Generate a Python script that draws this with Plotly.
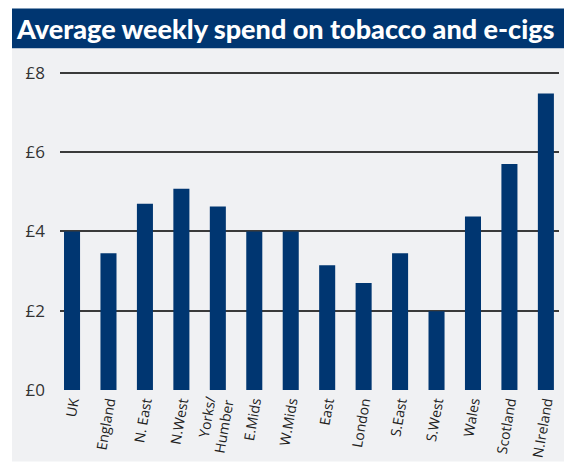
import plotly.graph_objects as go

regions = ["UK", "England", "N. East", "N.West", "Yorks/<br>Humber", "E.Mids", "W.Mids",
           "East", "London", "S.East", "S.West", "Wales", "Scotland", "N.Ireland"]
spend = [4.0, 3.45, 4.7, 5.08, 4.63, 4.0, 4.0, 3.15, 2.7, 3.45, 1.99, 4.38, 5.7, 7.48]
tick_vals = [0, 2, 4, 6, 8]
tick_text = ["£0", "£2", "£4", "£6", "£8"]
title = "Average weekly spend on tobacco and e-cigs"

W, H = 564, 464
L, R, T, B = 60, 5, 71, 72
pw, ph = W - L - R, H - T - B

def px(x):
    return (x - L) / pw

def py(y):
    return (H - B - y) / ph

fig = go.Figure(go.Bar(x=list(range(len(regions))), y=spend, marker_color="#003671",
                       marker_line_width=0, width=0.44))

fig.update_layout(
    width=W, height=H, margin=dict(l=L, r=R, t=T, b=B),
    paper_bgcolor="white", plot_bgcolor="rgba(0,0,0,0)",
    showlegend=False,
    xaxis=dict(range=[-0.33, 13.36], tickvals=list(range(len(regions))), ticktext=regions,
               tickangle=-80, showgrid=False, zeroline=False, showline=False, ticks="",
               tickfont=dict(family="Open Sans", size=14, color="#222")),
    yaxis=dict(range=[0, 8.05], tickvals=tick_vals, ticktext=tick_text, showgrid=True,
               gridcolor="#3a3a3a", gridwidth=1.5, zeroline=False, showline=False, ticks="",
               ticklabelstandoff=14,
               tickfont=dict(family="Open Sans", size=17, color="#333")),
    shapes=[
        dict(type="rect", xref="paper", yref="paper", x0=px(12), x1=px(564), y0=py(464), y1=py(48),
             fillcolor="#f0f1f3", line_width=0, layer="below"),
        dict(type="rect", xref="paper", yref="paper", x0=px(12), x1=px(564), y0=py(48), y1=py(8),
             fillcolor="#003671", line_width=0, layer="below"),
    ],
    annotations=[dict(text=title, xref="paper", yref="paper", x=px(285), y=py(28),
                      xanchor="center", yanchor="middle", showarrow=False,
                      font=dict(family="Lato", size=27, weight=900, color="white"))],
)

fig.write_html("out.html")
